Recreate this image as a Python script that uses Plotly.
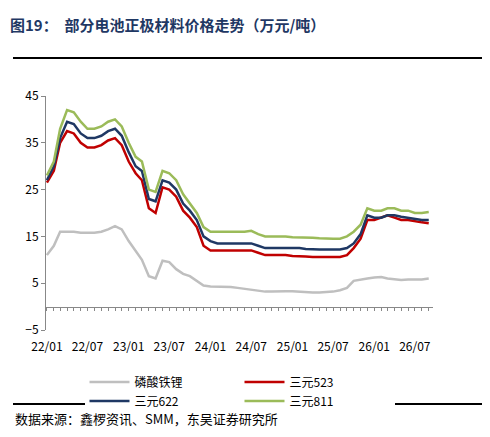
import plotly.graph_objects as go
import pandas as pd

dates = pd.date_range("2022-01-01", periods=57, freq="MS")
lfp = [11,13,16,16,16,15.8,15.8,15.8,16,16.5,17.2,16.5,
       14,12,10,6.5,6,9.8,9.5,8,7,6.5,5.5,4.5,
       4.3,4.3,4.2,4.2,4,3.8,3.5,3.3,3.2,3.2,3.3,3.3,
       3.3,3.2,3,3,3,3.1,3.2,3.5,4,5.5,5.8,6,
       6.2,6.3,6,5.8,5.7,5.8,5.8,5.8,6]
n523 = [26.5,29,35,37.5,37,35,34,34,34.5,35.5,36,34.5,
        31,28.5,27,21,20,25.5,25,23.5,20.5,19,17,13,
        12,12,12,12,12,12,12,11.5,11,11,11,11,
        10.8,10.8,10.7,10.6,10.6,10.6,10.6,10.6,11,12.5,14.5,18.5,
        18.5,19,19.5,19,18.5,18.5,18.2,18,17.8]
n622 = [27,30,36,39.5,39,37,36,36,36.5,37.5,38,36.5,
        33,30,29,23,22.5,27,26.5,25,22,20.5,18.5,15,
        14,13.5,13.5,13.5,13.5,13.5,13.5,13,12.5,12.5,12.5,12.5,
        12.5,12.5,12.3,12.2,12.2,12.2,12.2,12.2,12.5,13.5,15.5,19.5,
        19,19,19.5,19.5,19.2,19,18.8,18.5,18.5]
n811 = [28,31,38,42,41.5,39.5,38,38,38.5,39.5,40,38.5,
        35,32,31,25,24.5,29,28.5,27,24,22,20,17,
        16,16,16,16,16,16,16.2,15.5,15,15,15,15,
        14.8,14.8,14.8,14.7,14.6,14.5,14.5,14.5,15,16,17.5,21,
        20.5,20.5,21,21,20.5,20.5,20,20,20.2]
names = ["磷酸铁锂", "三元523", "三元622", "三元811"]
colors = ["#BFBFBF", "#C00000", "#1F3864", "#9BBB59"]

fig = go.Figure()
for nm, ys, c in zip(names, [lfp, n523, n622, n811], colors):
    fig.add_trace(go.Scatter(x=dates, y=ys, name=nm, mode="lines",
                             line=dict(color=c, width=2.5)))
fig.add_trace(go.Scatter(x=[dates[0]], y=[None], xaxis="x2", showlegend=False, hoverinfo="skip"))

font = "Noto Sans CJK SC"
xr = ["2021-12-28", "2026-09-20"]
fig.update_layout(
    width=490, height=437, paper_bgcolor="white", plot_bgcolor="white",
    margin=dict(l=38, r=65, t=88, b=115),
    font=dict(family=font, size=12, color="#000"),
    showlegend=True,
    legend=dict(orientation="h", x=0.5, xanchor="center", y=-0.16, yanchor="top",
                font=dict(size=12), itemwidth=40, entrywidth=100, tracegroupgap=0),
    xaxis=dict(range=xr, tickvals=pd.date_range("2022-01-01", "2026-07-01", freq="6MS"),
               tickformat="%y/%m", showline=False, ticks="", showgrid=False, zeroline=False,
               ticklabelstandoff=8, tickfont=dict(size=12)),
    xaxis2=dict(range=xr, overlaying="x", anchor="free", position=0.1, side="bottom",
                showline=True, linecolor="#888", ticks="outside", ticklen=3, tickcolor="#888",
                tickvals=pd.date_range("2022-01-01", "2026-09-01", freq="MS"),
                showticklabels=False, showgrid=False, zeroline=False),
    yaxis=dict(range=[-5, 45], tickvals=[-5, 5, 15, 25, 35, 45], showline=True, linecolor="#888",
               ticks="outside", ticklen=4, tickcolor="#888", showgrid=False, zeroline=False,
               tickfont=dict(size=12)),
)
fig.add_annotation(text="<b>图19：  部分电池正极材料价格走势（万元/吨）</b>", xref="paper", yref="paper",
                   x=-38/387, y=1 + (88 - 16)/234, xanchor="left", yanchor="middle", showarrow=False,
                   font=dict(size=15, color="#1F3864", family=font))
fig.add_annotation(text="数据来源：鑫椤资讯、SMM，东吴证券研究所", xref="paper", yref="paper",
                   x=-33/387, y=-(410 - 322)/234, xanchor="left", yanchor="middle", showarrow=False,
                   font=dict(size=13, color="#000", family=font))
for ypx in [50, 396]:
    yp = (322 - ypx)/234
    fig.add_shape(type="line", xref="paper", yref="paper", x0=-33/387, x1=(485-38)/387,
                  y0=yp, y1=yp, line=dict(color="black", width=2))
fig.write_html("out.html")
